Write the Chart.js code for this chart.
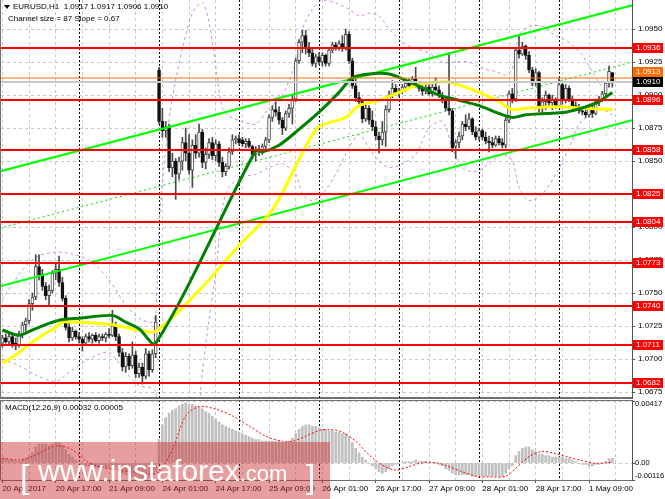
<!DOCTYPE html>
<html>
<head>
<meta charset="utf-8">
<script src="https://cdn.jsdelivr.net/npm/chart.js@4/dist/chart.umd.min.js"></script>
<style>
  html, body { margin: 0; padding: 0; background: #fff; }
  #wrap { position: relative; width: 665px; height: 499px; overflow: hidden; }
  #main { position: absolute; left: 0; top: 0; }
  #macd { position: absolute; left: 0; top: 400px; }
</style>
</head>
<body>
<div id="wrap">
  <canvas id="main" width="665" height="400"></canvas>
  <canvas id="macd" width="665" height="99"></canvas>
</div>
<script>
'use strict';

// ── Candles, H1, one array per trading day: [open, high, low, close] ──
const apr20 = [
  [1.0712,1.0718,1.0709,1.0716],[1.0716,1.0719,1.0712,1.0713],[1.0713,1.0719,1.0711,1.0717],
  [1.0717,1.0718,1.0709,1.0711],[1.0712,1.0716,1.0707,1.0710],[1.0710,1.0721,1.0709,1.0719],
  [1.0719,1.0728,1.0716,1.0726],[1.0726,1.0731,1.0721,1.0729],[1.0729,1.0745,1.0727,1.0742],
  [1.0742,1.0750,1.0737,1.0747],[1.0747,1.0779,1.0745,1.0770],[1.0770,1.0779,1.0760,1.0764],
  [1.0764,1.0768,1.0752,1.0755],[1.0755,1.0758,1.0745,1.0748],[1.0748,1.0756,1.0740,1.0752],
  [1.0752,1.0767,1.0750,1.0765],[1.0765,1.0772,1.0760,1.0768],[1.0768,1.0778,1.0755,1.0758],
  [1.0758,1.0762,1.0744,1.0746],[1.0746,1.0748,1.0722,1.0724],[1.0724,1.0727,1.0713,1.0716],
  [1.0716,1.0724,1.0714,1.0721],[1.0721,1.0722,1.0715,1.0717]
];
const apr21 = [
  [1.0717,1.0720,1.0712,1.0715],[1.0715,1.0717,1.0706,1.0712],[1.0712,1.0719,1.0711,1.0717],
  [1.0717,1.0720,1.0713,1.0715],[1.0715,1.0719,1.0712,1.0718],[1.0718,1.0720,1.0713,1.0714],
  [1.0714,1.0719,1.0712,1.0717],[1.0717,1.0719,1.0714,1.0716],[1.0716,1.0720,1.0713,1.0719],
  [1.0719,1.0723,1.0716,1.0718],[1.0718,1.0737,1.0717,1.0725],[1.0725,1.0728,1.0714,1.0717],
  [1.0717,1.0719,1.0702,1.0705],[1.0705,1.0708,1.0691,1.0694],[1.0694,1.0705,1.0690,1.0702],
  [1.0702,1.0704,1.0692,1.0695],[1.0695,1.0713,1.0693,1.0703],[1.0703,1.0706,1.0686,1.0689],
  [1.0689,1.0697,1.0686,1.0694],[1.0694,1.0697,1.0681,1.0687],[1.0687,1.0708,1.0685,1.0704],
  [1.0704,1.0706,1.0687,1.0692],[1.0692,1.0707,1.0690,1.0704],[1.0704,1.0733,1.0701,1.0728]
];
const apr24 = [
  [1.0919,1.0921,1.0878,1.0880],[1.0880,1.0890,1.0868,1.0873],[1.0873,1.0880,1.0868,1.0876],
  [1.0876,1.0878,1.0842,1.0845],[1.0845,1.0856,1.0838,1.0850],[1.0850,1.0852,1.0821,1.0840],
  [1.0840,1.0853,1.0836,1.0850],[1.0850,1.0868,1.0843,1.0864],[1.0864,1.0875,1.0850,1.0856],
  [1.0856,1.0870,1.0840,1.0843],[1.0843,1.0866,1.0830,1.0862],[1.0862,1.0870,1.0852,1.0856],
  [1.0856,1.0878,1.0853,1.0872],[1.0872,1.0874,1.0845,1.0849],[1.0849,1.0860,1.0844,1.0855],
  [1.0855,1.0867,1.0852,1.0864],[1.0864,1.0868,1.0851,1.0854],[1.0854,1.0866,1.0850,1.0863],
  [1.0863,1.0865,1.0846,1.0849],[1.0849,1.0853,1.0838,1.0842],[1.0842,1.0848,1.0839,1.0846],
  [1.0846,1.0860,1.0844,1.0857],[1.0857,1.0870,1.0855,1.0866],[1.0866,1.0869,1.0863,1.0867]
];
const apr25 = [
  [1.0867,1.0870,1.0862,1.0864],[1.0866,1.0868,1.0861,1.0863],[1.0863,1.0867,1.0860,1.0865],
  [1.0865,1.0867,1.0860,1.0861],[1.0861,1.0862,1.0852,1.0855],[1.0855,1.0861,1.0850,1.0858],
  [1.0858,1.0862,1.0854,1.0857],[1.0857,1.0863,1.0855,1.0861],[1.0861,1.0868,1.0858,1.0866],
  [1.0866,1.0885,1.0864,1.0883],[1.0883,1.0892,1.0880,1.0889],[1.0889,1.0895,1.0884,1.0887],
  [1.0887,1.0891,1.0878,1.0881],[1.0881,1.0883,1.0870,1.0875],[1.0875,1.0888,1.0873,1.0886],
  [1.0886,1.0893,1.0883,1.0890],[1.0890,1.0900,1.0878,1.0897],[1.0897,1.0928,1.0895,1.0926],
  [1.0926,1.0942,1.0924,1.0940],[1.0940,1.0949,1.0932,1.0945],[1.0945,1.0949,1.0931,1.0935],
  [1.0935,1.0940,1.0929,1.0932],[1.0932,1.0935,1.0922,1.0924],[1.0924,1.0931,1.0921,1.0929]
];
const apr26 = [
  [1.0929,1.0932,1.0923,1.0925],[1.0925,1.0932,1.0922,1.0930],[1.0930,1.0931,1.0922,1.0924],
  [1.0924,1.0936,1.0922,1.0934],[1.0934,1.0940,1.0932,1.0938],[1.0938,1.0940,1.0934,1.0936],
  [1.0936,1.0941,1.0934,1.0939],[1.0939,1.0945,1.0933,1.0936],[1.0936,1.0950,1.0934,1.0946],
  [1.0946,1.0948,1.0924,1.0926],[1.0926,1.0928,1.0905,1.0907],[1.0907,1.0912,1.0895,1.0898],
  [1.0898,1.0902,1.0891,1.0895],[1.0895,1.0897,1.0879,1.0882],[1.0882,1.0893,1.0880,1.0890],
  [1.0890,1.0892,1.0878,1.0881],[1.0881,1.0888,1.0873,1.0876],[1.0876,1.0880,1.0866,1.0869],
  [1.0869,1.0872,1.0856,1.0866],[1.0866,1.0880,1.0862,1.0872],[1.0872,1.0892,1.0861,1.0889],
  [1.0889,1.0903,1.0887,1.0900],[1.0900,1.0911,1.0898,1.0905],[1.0905,1.0908,1.0900,1.0902]
];
const apr27 = [
  [1.0902,1.0905,1.0899,1.0903],[1.0903,1.0908,1.0901,1.0906],[1.0906,1.0911,1.0903,1.0909],
  [1.0909,1.0912,1.0905,1.0907],[1.0907,1.0914,1.0906,1.0912],[1.0912,1.0921,1.0906,1.0908],
  [1.0908,1.0910,1.0903,1.0905],[1.0905,1.0909,1.0900,1.0903],[1.0903,1.0909,1.0901,1.0906],
  [1.0906,1.0908,1.0900,1.0901],[1.0901,1.0908,1.0899,1.0906],[1.0906,1.0913,1.0903,1.0904],
  [1.0904,1.0907,1.0898,1.0900],[1.0900,1.0902,1.0894,1.0896],[1.0896,1.0898,1.0888,1.0890],
  [1.0890,1.0932,1.0885,1.0888],[1.0888,1.0890,1.0857,1.0860],[1.0861,1.0866,1.0852,1.0864],
  [1.0864,1.0872,1.0860,1.0869],[1.0869,1.0880,1.0866,1.0878],[1.0878,1.0885,1.0873,1.0876],
  [1.0876,1.0886,1.0874,1.0882],[1.0882,1.0883,1.0870,1.0872],[1.0872,1.0876,1.0866,1.0868]
];
const apr28 = [
  [1.0868,1.0875,1.0866,1.0873],[1.0873,1.0874,1.0866,1.0868],[1.0868,1.0872,1.0863,1.0865],
  [1.0865,1.0869,1.0857,1.0864],[1.0864,1.0868,1.0860,1.0862],[1.0862,1.0869,1.0861,1.0867],
  [1.0867,1.0869,1.0862,1.0864],[1.0864,1.0867,1.0860,1.0862],[1.0862,1.0883,1.0860,1.0881],
  [1.0881,1.0903,1.0879,1.0901],[1.0901,1.0905,1.0894,1.0897],[1.0897,1.0936,1.0895,1.0934],
  [1.0934,1.0945,1.0928,1.0931],[1.0931,1.0940,1.0930,1.0937],[1.0937,1.0938,1.0927,1.0930],
  [1.0930,1.0933,1.0917,1.0919],[1.0919,1.0921,1.0907,1.0909],[1.0909,1.0920,1.0907,1.0917],
  [1.0917,1.0918,1.0887,1.0890],[1.0890,1.0898,1.0886,1.0895],[1.0895,1.0903,1.0889,1.0900],
  [1.0900,1.0901,1.0892,1.0894],[1.0894,1.0900,1.0889,1.0897],[1.0897,1.0898,1.0890,1.0892]
];
const may01 = [
  [1.0892,1.0913,1.0890,1.0908],[1.0908,1.0909,1.0893,1.0896],[1.0896,1.0908,1.0894,1.0905],
  [1.0905,1.0907,1.0895,1.0897],[1.0897,1.0899,1.0890,1.0892],[1.0892,1.0895,1.0889,1.0891],
  [1.0891,1.0893,1.0886,1.0888],[1.0888,1.0891,1.0885,1.0887],[1.0887,1.0889,1.0883,1.0885],
  [1.0885,1.0891,1.0883,1.0890],[1.0890,1.0894,1.0883,1.0886],[1.0886,1.0897,1.0885,1.0895],
  [1.0895,1.0899,1.0892,1.0897],[1.0897,1.0903,1.0895,1.0901],[1.0901,1.0910,1.0899,1.0909],
  [1.0909,1.0922,1.0906,1.0918],[1.0917,1.0917,1.0906,1.0910]
];

// ── Time axis ──────────────────────────────────────────
const tickLabels = ['20 Apr 2017', '20 Apr 17:00', '21 Apr 09:00', '24 Apr 01:00', '24 Apr 17:00',
  '25 Apr 09:00', '26 Apr 01:00', '26 Apr 17:00', '27 Apr 09:00', '28 Apr 01:00', '28 Apr 17:00', '1 May 09:00'];
const dayStarts = [23, 47, 71, 95, 119, 143, 167];   // bar index of each 00:00

// ── Price axis & levels ────────────────────────────────
const priceTicks = [1.0675, 1.0700, 1.0725, 1.0750, 1.0775, 1.0800, 1.0825, 1.0850, 1.0875, 1.0900, 1.0925, 1.0950];
const levels = [1.0936, 1.0896, 1.0858, 1.0825, 1.0804, 1.0773, 1.0740, 1.0711, 1.0682];
const markPrice = 1.0913;
const bidPrice = 1.0910;

// ── Indicators: [bar, value] ───────────────────────────
const maGreen = [[0,1.0722],[5,1.0718],[9,1.0722],[14,1.0727],[18,1.0730],[23,1.0731],[33,1.0733],[37,1.0728],
  [41,1.0723],[46,1.0712],[76,1.0858],[78,1.0857],[83,1.0862],[89,1.0874],[95,1.0887],[101,1.0902],[105,1.0913],
  [110,1.0916],[116,1.0916],[123,1.0909],[131,1.0900],[137,1.0896],[143,1.0892],[149,1.0886],[153,1.0883],
  [157,1.0885],[163,1.0886],[169,1.0887],[175,1.0891],[179,1.0895],[183,1.0902]];
const maYellow = [[0,1.0697],[4,1.0703],[8,1.0711],[12,1.0718],[16,1.0724],[18,1.0728],[21,1.0728],[29,1.0727],
  [33,1.0726],[37,1.0724],[41,1.0722],[46,1.0721],[59,1.0752],[71,1.0786],[81,1.0813],[91,1.0861],[95,1.0876],
  [103,1.0883],[107,1.0892],[113,1.0896],[119,1.0902],[125,1.0908],[133,1.0910],[139,1.0906],[143,1.0902],
  [149,1.0895],[153,1.0889],[157,1.0890],[163,1.0891],[169,1.0891],[175,1.0890],[183,1.0889]];
const bbUpper = [[0,1.0745],[5,1.0764],[10,1.0777],[16,1.0781],[20,1.0780],[26,1.0775],[32,1.0760],[37,1.0741],
  [41,1.0731],[45,1.0728],[46,1.0735],[47,1.0800],[49,1.0860],[51,1.0898],[54,1.0935],[57,1.0962],[60,1.0970],
  [62,1.0955],[64,1.0922],[66,1.0890],[68,1.0884],[72,1.0880],[76,1.0878],[80,1.0890],[84,1.0900],[88,1.0925],
  [90,1.0950],[93,1.0965],[96,1.0972],[100,1.0970],[104,1.0965],[107,1.0960],[110,1.0962],[113,1.0960],
  [116,1.0950],[120,1.0940],[124,1.0935],[128,1.0932],[132,1.0925],[136,1.0925],[140,1.0925],[144,1.0920],
  [148,1.0918],[151,1.0915],[153,1.0920],[155,1.0945],[158,1.0952],[162,1.0952],[166,1.0945],[170,1.0940],
  [174,1.0930],[177,1.0918],[180,1.0907],[183,1.0915]];
const bbLower = [[0,1.0700],[5,1.0695],[10,1.0688],[16,1.0683],[20,1.0690],[26,1.0700],[32,1.0705],[37,1.0690],
  [41,1.0680],[45,1.0678],[46,1.0675],[47,1.0640],[50,1.0600],[56,1.0600],[60,1.0690],[62,1.0730],[64,1.0765],
  [66,1.0815],[68,1.0830],[72,1.0838],[76,1.0840],[80,1.0845],[84,1.0848],[88,1.0840],[90,1.0825],[93,1.0820],
  [96,1.0825],[100,1.0840],[104,1.0860],[107,1.0870],[110,1.0860],[113,1.0850],[116,1.0845],[120,1.0848],
  [124,1.0855],[128,1.0875],[132,1.0880],[135,1.0860],[138,1.0845],[142,1.0842],[146,1.0848],[150,1.0855],
  [153,1.0850],[155,1.0830],[158,1.0820],[162,1.0825],[166,1.0840],[170,1.0860],[173,1.0878],[177,1.0886],
  [180,1.0889],[183,1.0885]];
const chanUpper = [[-1, 1.0842], [189, 1.0968]];
const chanMiddle = [[-1, 1.0799], [189, 1.0925]];
const chanLower = [[-1, 1.0755], [189, 1.0881]];

// ── MACD(12,26,9) histogram per day, signal as [bar, value] ──
const macdApr20 = [0.0003,0.0003,0.0002,0.0002,0.0001,0.0001,0.0002,0.0003,0.0005,0.0007,0.0011,0.0013,
  0.0013,0.0013,0.0012,0.0013,0.0014,0.0014,0.0012,0.0009,0.0006,0.0004,0.0002];
const macdApr21 = [0.0001,-0.0001,-0.0002,-0.0002,-0.0003,-0.0003,-0.0003,-0.0003,-0.0003,-0.0003,-0.0002,-0.0003,
  -0.0005,-0.0007,-0.0008,-0.0009,-0.0009,-0.0010,-0.0010,-0.0011,-0.0010,-0.0010,-0.0009,-0.0006];
const macdApr24 = [0.0016,0.0026,0.0031,0.0034,0.0036,0.0037,0.0039,0.0040,0.0041,0.0040,0.0040,0.0039,
  0.0038,0.0037,0.0035,0.0034,0.0032,0.0030,0.0028,0.0026,0.0025,0.0024,0.0023,0.0022];
const macdApr25 = [0.0021,0.0020,0.0019,0.0018,0.0017,0.0016,0.0016,0.0015,0.0015,0.0015,0.0015,0.0015,
  0.0015,0.0014,0.0014,0.0015,0.0017,0.0020,0.0023,0.0025,0.0026,0.0026,0.0025,0.0025];
const macdApr26 = [0.0024,0.0023,0.0023,0.0022,0.0022,0.0021,0.0021,0.0020,0.0020,0.0018,0.0014,0.0010,
  0.0007,0.0004,0.0002,0.0000,-0.0002,-0.0004,-0.0006,-0.0007,-0.0006,-0.0004,-0.0002,-0.0001];
const macdApr27 = [0.0000,0.0000,0.0001,0.0001,0.0001,0.0002,0.0001,0.0001,0.0001,0.0000,0.0000,0.0000,
  -0.0001,-0.0002,-0.0004,-0.0005,-0.0007,-0.0008,-0.0008,-0.0008,-0.0008,-0.0008,-0.0009,-0.0009];
const macdApr28 = [-0.0009,-0.0009,-0.0009,-0.0009,-0.0009,-0.0009,-0.0009,-0.0009,-0.0007,-0.0004,-0.0002,0.0005,
  0.0008,0.0010,0.0011,0.0011,0.0009,0.0008,0.0006,0.0006,0.0005,0.0005,0.0004,0.0004];
const macdMay01 = [0.0004,0.0004,0.0003,0.0003,0.0002,0.0001,0.0000,-0.0001,-0.0001,-0.0002,-0.0002,-0.0001,
  -0.0001,0.0000,0.0001,0.0003,0.00032];
const macdSignal = [[0,0.00033],[5,0.00021],[9,0.00044],[14,0.00102],[17,0.00118],[21,0.00090],[25,0.00016],
  [29,-0.00025],[34,-0.00044],[39,-0.00060],[44,-0.00076],[47,-0.00060],[51,0.00090],[55,0.00322],[59,0.00385],
  [64,0.00368],[69,0.00322],[74,0.00253],[79,0.00183],[84,0.00148],[87,0.00148],[91,0.00183],[95,0.00222],
  [98,0.00229],[102,0.00211],[106,0.00148],[110,0.00056],[114,-0.00014],[118,-0.00049],[122,-0.00025],
  [126,0.00002],[130,0.00002],[134,-0.00025],[138,-0.00060],[142,-0.00090],[146,-0.00095],[151,-0.00090],
  [154,-0.00037],[158,0.00044],[162,0.00079],[166,0.00063],[170,0.00039],[174,0.00016],[178,-0.00002],[183,0.00005]];
const macdTicks = [0.00417, 0, -0.00116];
const macdTickLabels = ['0.00417', '0.00', '-0.00116'];

// ── Build datasets ─────────────────────────────────────
const candles = [...apr20, ...apr21, ...apr24, ...apr25, ...apr26, ...apr27, ...apr28, ...may01];
const macdHist = [...macdApr20, ...macdApr21, ...macdApr24, ...macdApr25, ...macdApr26, ...macdApr27, ...macdApr28, ...macdMay01];
const pts = arr => arr.map(([x, y]) => ({ x, y }));
const isBull = c => c[3] >= c[0];

const FONT = "'Liberation Sans', Arial, sans-serif";
Chart.defaults.font.family = FONT;
Chart.defaults.font.size = 8;
Chart.defaults.color = '#000';

const X_MIN = -0.42, X_MAX = 188.9;
const gridTicks = Array.from({ length: 24 }, (_, k) => k * 8);
const GRID = '#c8c8c8';

// shared x axis definition
const xAxis = (showLabels) => ({
    type: 'linear', min: X_MIN, max: X_MAX, offset: false,
    afterBuildTicks: s => { s.ticks = gridTicks.map(v => ({ value: v })); },
    afterFit: s => { s.height = showLabels ? 19 : 2; s.paddingLeft = 0; s.paddingRight = 0; },
    ticks: {
        display: showLabels, autoSkip: false, maxRotation: 0, align: 'start', padding: 1,
        callback: v => (v % 16 === 0 ? (tickLabels[v / 16] || '') : '')
    },
    grid: {
        color: GRID, offset: false, drawTicks: showLabels, tickLength: 3,
        tickColor: c => (c.tick && c.tick.value % 16 === 0 ? '#555' : 'rgba(0,0,0,0)')
    },
    border: { display: true, color: '#707070', width: showLabels ? 1 : 2, dash: [3, 3] }
});

// ── Plugin: separators, levels, axis boxes, texts ──────
const mtPlugin = {
    id: 'mt',
    beforeDatasetsDraw(chart) {
        const { ctx, chartArea: a, scales: { x } } = chart;
        ctx.save();
        ctx.strokeStyle = '#000';
        ctx.lineWidth = 1;
        ctx.setLineDash([2, 2]);
        dayStarts.forEach(i => {
            const px = Math.round(x.getPixelForValue(i)) + 0.5;
            ctx.beginPath(); ctx.moveTo(px, a.top); ctx.lineTo(px, a.bottom); ctx.stroke();
        });
        ctx.setLineDash([]);
        ctx.strokeStyle = '#707070';
        ctx.beginPath(); ctx.moveTo(0.5, a.top); ctx.lineTo(0.5, a.bottom); ctx.stroke();
        ctx.restore();
    },
    afterDatasetsDraw(chart, args, opts) {
        if (!opts.main) return;
        const { ctx, chartArea: a, scales: { y } } = chart;
        ctx.save();
        const hline = (v, color, w) => {
            const py = Math.round(y.getPixelForValue(v));
            ctx.strokeStyle = color; ctx.lineWidth = w;
            ctx.beginPath(); ctx.moveTo(a.left, py); ctx.lineTo(a.right, py); ctx.stroke();
        };
        hline(bidPrice, '#c8c8c8', 2);
        hline(markPrice, '#ff6a00', 1);
        levels.forEach(v => hline(v, '#ff0000', 2));
        ctx.restore();
    },
    afterDraw(chart, args, opts) {
        const { ctx, chartArea: a, scales: { y } } = chart;
        ctx.save();
        ctx.font = `8px ${FONT}`;
        ctx.textBaseline = 'middle';
        if (opts.main) {
            const box = (v, bg, dy) => {
                const py = Math.round(y.getPixelForValue(v)) + dy;
                ctx.fillStyle = bg; ctx.fillRect(a.right + 1, py - 5, 30, 10);
                ctx.fillStyle = '#fff'; ctx.fillText(v.toFixed(4), a.right + 4, py);
            };
            box(markPrice, '#ff6a00', -6);
            box(bidPrice, '#000', 0);
            levels.forEach(v => box(v, '#ff0000', 0));
            // header
            ctx.fillStyle = '#000';
            ctx.beginPath(); ctx.moveTo(4, 5); ctx.lineTo(10, 5); ctx.lineTo(7, 9); ctx.closePath(); ctx.fill();
            ctx.fillText('EURUSD,H1  1.0917 1.0917 1.0906 1.0910', 13, 7);
            ctx.fillText('Channel size = 87 Slope = 0.67', 8, 19);
        } else {
            ctx.strokeStyle = '#707070'; ctx.lineWidth = 1;
            ctx.beginPath(); ctx.moveTo(0, a.top + 0.5); ctx.lineTo(a.right, a.top + 0.5); ctx.stroke();
            ctx.fillStyle = '#000';
            ctx.fillText('MACD(12,26,9) 0.00032 0.00005', 5, a.top + 8);
            // sub-window scale labels, kept inside the window like MT4 does
            ctx.font = `7.5px ${FONT}`;
            macdTicks.forEach((v, k) => {
                const py = Math.min(Math.max(y.getPixelForValue(v), a.top + 4), a.bottom - 4);
                ctx.fillText(macdTickLabels[k], a.right + 3, py);
            });
            // watermark
            ctx.fillStyle = 'rgba(200,40,40,0.45)';
            ctx.fillRect(0, 42, 330, 57);
            ctx.fillStyle = '#fff';
            ctx.textBaseline = 'alphabetic';
            ctx.font = `34px ${FONT}`;
            ctx.fillText('[', 20, 88);
            ctx.fillText(']', 306, 88);
            ctx.font = `30px ${FONT}`;
            ctx.fillText('www.instaforex', 38, 81);
            const w = ctx.measureText('www.instaforex').width;
            ctx.font = `22px ${FONT}`;
            ctx.fillText('.com', 38 + w, 81);
        }
        ctx.restore();
    }
};

const lineDs = (data, color, width, extra) => Object.assign({
    type: 'line', data: pts(data), borderColor: color, borderWidth: width,
    pointRadius: 0, tension: 0.3, fill: false
}, extra || {});

// ── Main price chart ───────────────────────────────────
new Chart(document.getElementById('main'), {
    type: 'bar',
    data: {
        datasets: [
            lineDs(bbUpper, '#c88ce6', 1, { borderDash: [3, 3], order: 9 }),
            lineDs(bbLower, '#c88ce6', 1, { borderDash: [3, 3], order: 9 }),
            lineDs(chanMiddle, '#00e000', 1, { borderDash: [2, 3], tension: 0, order: 8 }),
            {
                type: 'bar', order: 7, grouped: false, barThickness: 1,
                data: candles.map((c, i) => ({ x: i, y: [c[2], c[1]] })),
                backgroundColor: '#4a4a4a'
            },
            {
                type: 'bar', order: 6, grouped: false, barThickness: 3, borderSkipped: false,
                data: candles.map((c, i) => ({ x: i, y: [c[0], c[3]] })),
                backgroundColor: candles.map(c => (isBull(c) ? '#ffffff' : '#111111')),
                borderColor: candles.map(c => (isBull(c) ? '#4a4a4a' : '#111111')),
                borderWidth: 1
            },
            lineDs(chanUpper, '#00ff00', 2, { tension: 0, order: 5 }),
            lineDs(chanLower, '#00ff00', 2, { tension: 0, order: 5 }),
            lineDs(maYellow, '#ffff00', 3, { order: 4 }),
            lineDs(maGreen, '#008000', 3, { order: 3 })
        ]
    },
    options: {
        responsive: false, animation: false, events: [],
        layout: { padding: { left: 1, right: 0, top: 0, bottom: 0 } },
        plugins: { legend: { display: false }, tooltip: { enabled: false }, mt: { main: true } },
        scales: {
            x: xAxis(false),
            y: {
                position: 'right', min: 1.06705, max: 1.09720,
                afterBuildTicks: s => { s.ticks = priceTicks.map(v => ({ value: v })); },
                afterFit: s => { s.width = 33; s.paddingTop = 0; s.paddingBottom = 0; },
                ticks: { color: '#000', padding: 3, callback: v => v.toFixed(4) },
                grid: { color: GRID, tickColor: '#555', tickLength: 3 },
                border: { display: true, color: '#555', width: 1, dash: [3, 3] }
            }
        }
    },
    plugins: [mtPlugin]
});

// ── MACD sub-window ────────────────────────────────────
new Chart(document.getElementById('macd'), {
    type: 'bar',
    data: {
        datasets: [
            lineDs(macdSignal, '#ff0000', 1, { borderDash: [2, 2], order: 1 }),
            {
                type: 'bar', order: 2, grouped: false, barThickness: 2,
                data: macdHist.map((v, i) => ({ x: i, y: v })),
                backgroundColor: '#c0c0c0'
            }
        ]
    },
    options: {
        responsive: false, animation: false, events: [],
        layout: { padding: { left: 1, right: 0, top: 0, bottom: 0 } },
        plugins: { legend: { display: false }, tooltip: { enabled: false }, mt: { main: false } },
        scales: {
            x: xAxis(true),
            y: {
                position: 'right', min: -0.00116, max: 0.0043,
                afterBuildTicks: s => { s.ticks = macdTicks.map(v => ({ value: v })); },
                afterFit: s => { s.width = 33; s.paddingTop = 0; s.paddingBottom = 0; },
                ticks: { display: false },
                grid: { color: GRID, tickColor: '#555', tickLength: 3 },
                border: { display: true, color: '#555', width: 1, dash: [3, 3] }
            }
        }
    },
    plugins: [mtPlugin]
});
</script>
</body>
</html>
